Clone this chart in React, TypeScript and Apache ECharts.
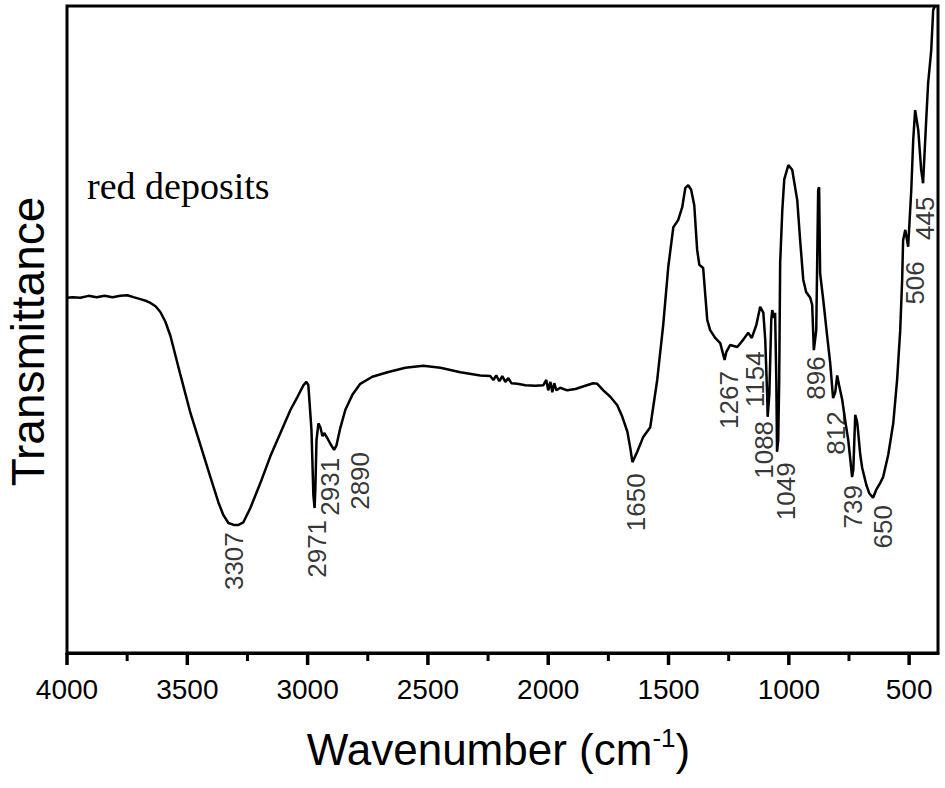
import React, { useEffect, useRef } from "react";
import * as echarts from "echarts";

const WAVENUMBERS = [4000,3977,3944,3911,3877,3844,3811,3778,3749,3724,3695,3670,3653,3632,3612,3591,3570,3528,3487,3445,3404,3371,3350,3329,3307,3287,3267,3238,3196,3155,3113,3071,3042,3017,3005,2997,2984,2976,2971,2968,2963,2955,2947,2938,2931,2918,2905,2890,2880,2864,2843,2814,2781,2731,2668,2594,2519,2448,2365,2282,2241,2228,2216,2203,2191,2178,2166,2153,2128,2095,2054,2020,2008,2000,1991,1983,1975,1966,1950,1921,1887,1846,1813,1796,1771,1742,1713,1692,1671,1659,1650,1630,1605,1576,1547,1522,1501,1480,1460,1443,1430,1418,1406,1393,1381,1372,1356,1339,1327,1306,1285,1267,1260,1244,1214,1190,1169,1154,1135,1119,1106,1098,1090,1088,1081,1073,1069,1061,1057,1052,1049,1044,1040,1036,1027,1019,1002,986,965,953,940,928,911,903,896,886,878,874,870,857,841,828,816,807,799,791,778,766,753,745,737,732,724,716,712,703,695,678,666,650,637,620,608,587,566,550,537,529,525,516,504,491,483,475,462,450,442,429,421,408,400,392];

const TRANSMITTANCE = [54.9,55.0,54.9,55.2,55.0,55.2,55.0,55.2,55.3,55.0,54.7,54.4,54.1,53.6,52.7,51.2,49.0,42.9,37.1,32.1,27.2,23.3,21.3,20.1,19.8,19.8,20.2,22.4,26.3,30.4,34.0,37.6,39.6,41.4,41.9,41.4,34.5,24.4,22.4,25.2,32.9,35.5,34.9,33.5,34.0,33.2,32.3,31.4,32.1,34.8,37.6,39.9,41.6,42.7,43.4,44.1,44.4,44.1,43.4,42.9,42.8,42.2,42.9,42.0,42.8,41.9,42.5,41.7,41.6,41.4,41.3,41.4,42.2,40.6,41.9,40.3,41.7,40.6,41.0,40.6,40.8,41.3,41.7,41.6,40.6,39.6,38.3,36.5,34.2,31.7,29.5,31.1,33.4,34.9,42.2,50.7,59.7,65.8,66.9,68.9,71.9,72.3,71.6,69.2,62.3,60.0,59.5,51.5,49.9,48.7,47.9,45.3,46.5,47.6,47.3,48.4,49.5,48.7,50.7,53.5,52.6,48.4,39.9,36.5,39.9,51.5,53.0,51.8,52.6,42.2,31.1,32.9,42.2,60.3,68.5,73.2,75.4,74.7,70.0,63.8,57.7,55.8,54.9,53.8,46.8,49.9,71.6,72.0,58.7,54.6,49.1,44.8,39.4,40.3,42.9,41.4,39.1,36.0,32.9,30.1,27.2,28.3,36.8,35.7,34.2,30.6,28.6,26.0,24.7,24.0,25.2,26.3,27.2,30.6,35.5,42.2,49.9,57.7,63.8,65.4,62.8,71.6,79.3,83.9,80.8,74.7,72.6,82.4,88.1,93.2,99.4,100];

const PEAK_LABELS = ["3307","2971","2931","2890","1650","1267","1154","1088","1049","896","812","739","650","506","445"];
const PEAK_LABEL_WN = [3308,2959,2905,2781,1634,1248,1140,1102,1011,886,803,732,608,475,434];
const PEAK_LABEL_T = [14.2,16.1,25.7,26.6,23.3,39.1,42.3,31.4,25.0,42.5,34.0,22.6,19.5,57.2,67.2];

const MAJOR_TICKS = [4000,3500,3000,2500,2000,1500,1000,500];
const MINOR_TICKS = [3750,3250,2750,2250,1750,1250,750];

const SANS = "Liberation Sans, Arial, Helvetica, sans-serif";

export default function App() {
  const ref = useRef<HTMLDivElement>(null);
  useEffect(() => {
    if (!ref.current) return;
    const chart = echarts.init(ref.current, null, { renderer: "svg" });
    const lineData = WAVENUMBERS.map((w, i) => [w, TRANSMITTANCE[i]]);
    const labelData = PEAK_LABELS.map((t, i) => ({ name: t, value: [PEAK_LABEL_WN[i], PEAK_LABEL_T[i]] }));
    const redText = {
      id: "redText", type: "text", left: 87, top: 167,
      style: { text: "red deposits", fontSize: 38, fontFamily: "Liberation Serif, Times New Roman, serif", fill: "#000" },
    };
    chart.setOption({
      animation: false,
      backgroundColor: "#fff",
      grid: {
        left: 67, right: 7, top: 6, bottom: 135, show: true, borderColor: "#000", borderWidth: 3,
        containLabel: false, outerBoundsMode: "none",
      },
      xAxis: {
        type: "value", min: 380, max: 4000, inverse: true, position: "bottom",
        axisLine: { show: true, lineStyle: { color: "#000", width: 3 } },
        axisTick: { show: false },
        axisLabel: {
          show: true, customValues: MAJOR_TICKS, fontSize: 28, color: "#000", fontFamily: SANS, margin: 22,
          formatter: (v: number) => String(v),
        },
        splitLine: { show: false },
        name: "Wavenumber (cm{sup|-1})",
        nameLocation: "middle",
        nameGap: 72,
        nameTextStyle: {
          fontSize: 44, color: "#000", fontFamily: SANS, lineHeight: 48, padding: [0, 8, 0, 0],
          rich: { sup: { fontSize: 26, color: "#000", fontFamily: SANS, verticalAlign: "top", lineHeight: 48, padding: [0, 0, 14, 0] } },
        },
      },
      yAxis: {
        type: "value", min: 0, max: 100,
        axisLine: { show: false }, axisTick: { show: false }, axisLabel: { show: false }, splitLine: { show: false },
        name: "Transmittance", nameLocation: "middle", nameGap: 16,
        nameTextStyle: { fontSize: 46, color: "#000", fontFamily: SANS, padding: [0, 24, 0, 0] },
      },
      graphic: [redText],
      series: [
        {
          type: "line", data: lineData, showSymbol: false, symbol: "none", smooth: false,
          lineStyle: { color: "#000", width: 2.5 }, silent: true, z: 3,
        },
        {
          type: "scatter", data: labelData, symbolSize: 1, itemStyle: { color: "rgba(0,0,0,0)" }, silent: true,
          label: { show: true, position: "inside", rotate: 90, formatter: "{b}", fontSize: 26, color: "#000", fontFamily: SANS, align: "center", verticalAlign: "middle" },
          z: 4,
        },
      ],
    });

    // axis ticks placed through the chart's own x scale
    const yBase = chart.convertToPixel({ yAxisIndex: 0 }, 0) as number;
    const tickEl = (v: number, len: number, w: number, id: string) => {
      const x = chart.convertToPixel({ xAxisIndex: 0 }, v) as number;
      return {
        id, type: "line", silent: true, z: 100,
        shape: { x1: x, y1: yBase, x2: x, y2: yBase + len },
        style: { stroke: "#000", lineWidth: w },
      };
    };
    const ticks = [
      ...MAJOR_TICKS.map((v, i) => tickEl(v, 12, 3.5, "maj" + i)),
      ...MINOR_TICKS.map((v, i) => tickEl(v, 8, 3, "min" + i)),
    ];
    chart.setOption({ graphic: [redText, ...ticks] });

    return () => chart.dispose();
  }, []);
  return <div ref={ref} style={{ position: "fixed", left: 0, top: 0, width: 945, height: 788, background: "#fff" }} />;
}
